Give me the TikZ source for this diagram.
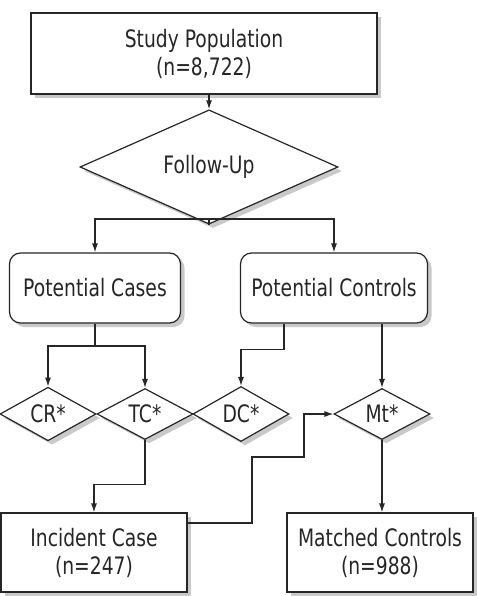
\documentclass[tikz,border=0pt]{standalone}
\usepackage{fontspec}
\setmainfont[FakeStretch=0.78]{DejaVu Sans}
\usetikzlibrary{shapes.geometric,arrows.meta,shadows}
\begin{document}
\begin{tikzpicture}[x=1pt,y=-1pt,
  every node/.style={font=\fontsize{24}{28}\selectfont, text=black!85, align=center},
  shd/.style={drop shadow={shadow xshift=4pt, shadow yshift=-4pt, fill=black!30, opacity=0.7}},
  box/.style={draw=black!85, line width=1.2pt, fill=white, shd, inner sep=0pt},
  rbox/.style={box, rounded corners=11pt},
  dia/.style={diamond, draw=black!85, line width=1.2pt, fill=white, shd, inner sep=0pt},
  arr/.style={draw=black!85, line width=1.2pt, -{Latex[length=9pt,width=6pt]}},
  ln/.style={draw=black!85, line width=1.2pt}
]
\useasboundingbox (0,0) rectangle (476,596);

\node[box, minimum width=346pt, minimum height=81pt] (sp) at (204,53.5) {Study Population\\(n=8,722)};
\node[dia, minimum width=258pt, minimum height=68pt] (fu) at (209,167) {Follow-Up};
\node[rbox, minimum width=171pt, minimum height=70pt] (pc) at (95,288) {Potential Cases};
\node[rbox, minimum width=187pt, minimum height=70pt] (pco) at (334,288) {Potential Controls};
\node[dia, minimum width=96pt, minimum height=51pt] (cr) at (48,414) {CR*};
\node[dia, minimum width=96pt, minimum height=51pt] (tc) at (145,414) {TC*};
\node[dia, minimum width=96pt, minimum height=51pt] (dc) at (241,414) {DC*};
\node[dia, minimum width=96pt, minimum height=51pt] (mt) at (382,414) {Mt*};
\node[box, minimum width=186pt, minimum height=79pt] (ic) at (94,552.5) {Incident Case\\(n=247)};
\node[box, minimum width=186pt, minimum height=79pt] (mc) at (380,552.5) {Matched Controls\\(n=988)};

\draw[arr] (fu.north |- sp.south) -- (fu.north);
\coordinate (j1) at (209,219);
\draw[ln] (fu.south) -- (j1);
\draw[arr] (j1) -| (pc.north);
\draw[arr] (j1) -| (pco.north);

\coordinate (j2) at (95,346);
\draw[ln] (pc.south) -- (j2);
\draw[arr] (j2) -| (cr.north);
\draw[arr] (j2) -| (tc.north);

\draw[arr] ([xshift=-50pt]pco.south) -- ++(0,26) -| (dc.north);
\draw[arr] (mt.north |- pco.south) -- (mt.north);

\draw[arr] (tc.south) -- ++(0,44) -| (ic.north);
\draw[arr] ([yshift=29.5pt]ic.east) -| (252,457) -| (304,414) -- (mt.west);
\draw[arr] (mt.south) -- (mt.south |- mc.north);
\end{tikzpicture}
\end{document}
